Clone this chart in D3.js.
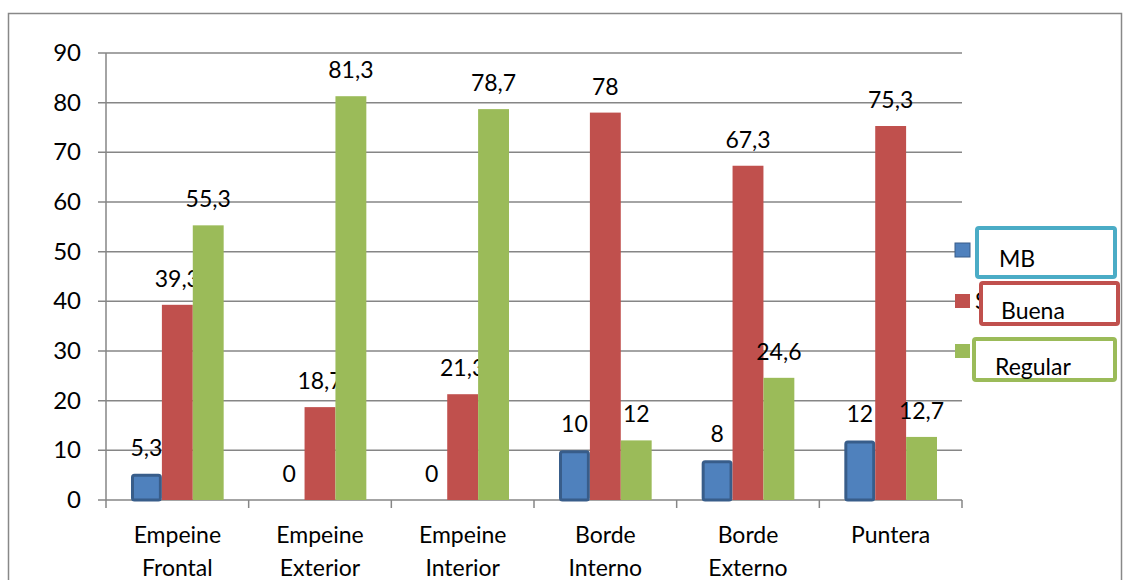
<!DOCTYPE html>
<html>
<head>
<meta charset="utf-8">
<script src="https://cdn.jsdelivr.net/npm/d3@7"></script>
<style>
  body { margin: 0; background: #fff; }
  text { font-family: Lato, "Noto Sans", sans-serif; fill: #000; }
</style>
</head>
<body>
<div id="chart"></div>
<script>
var categories = [["Empeine", "Frontal"], ["Empeine", "Exterior"], ["Empeine", "Interior"],
                  ["Borde", "Interno"], ["Borde", "Externo"], ["Puntera"]];
var seriesNames = ["MB", "Buena", "Regular"];
var mb = [5.3, 0, 0, 10, 8, 12];
var buena = [39.3, 18.7, 21.3, 78, 67.3, 75.3];
var regular = [55.3, 81.3, 78.7, 12, 24.6, 12.7];
var yTicks = [0, 10, 20, 30, 40, 50, 60, 70, 80, 90];

var colors = ["#4f81bd", "#c0504d", "#9bbb59"];
var strokes = ["#385d8a", null, null];
var boxColors = ["#4bacc6", "#c0504d", "#9bbb59"];

var W = 1133, H = 580;
var margin = { top: 53, left: 106 };
var width = 856, height = 447;

var svg = d3.select("#chart").append("svg")
  .attr("width", W).attr("height", H);

// outer chart border
svg.append("rect")
  .attr("x", 8.5).attr("y", 13.5)
  .attr("width", 1113).attr("height", 600)
  .attr("fill", "none").attr("stroke", "#888").attr("stroke-width", 1.5);

var g = svg.append("g")
  .attr("transform", "translate(" + margin.left + "," + margin.top + ")");

var x = d3.scaleBand().domain(d3.range(categories.length)).range([0, width]);
var x1 = d3.scaleBand().domain(d3.range(3)).range([25, x.bandwidth() - 25]);
var y = d3.scaleLinear().domain([0, 90]).range([height, 0]);

// grid
g.selectAll(".grid").data(yTicks).enter().append("line")
  .attr("x1", -8).attr("x2", width)
  .attr("y1", function (d) { return y(d); })
  .attr("y2", function (d) { return y(d); })
  .attr("stroke", "#868686").attr("stroke-width", 1.5);

// y axis line
g.append("line").attr("x1", 0).attr("x2", 0).attr("y1", 0).attr("y2", height)
  .attr("stroke", "#868686").attr("stroke-width", 1.5);

// x ticks
g.selectAll(".xt").data(d3.range(categories.length + 1)).enter().append("line")
  .attr("x1", function (d) { return d * x.step(); })
  .attr("x2", function (d) { return d * x.step(); })
  .attr("y1", height).attr("y2", height + 8)
  .attr("stroke", "#868686").attr("stroke-width", 1.5);

// y labels
g.selectAll(".yl").data(yTicks).enter().append("text")
  .attr("x", -25)
  .attr("y", function (d) { return y(d) + 8; })
  .attr("text-anchor", "end")
  .style("font-size", "24px")
  .text(function (d) { return d; });

// x labels
var xl = g.selectAll(".xl").data(categories).enter().append("text")
  .attr("text-anchor", "middle")
  .style("font-size", "23px")
  .attr("transform", function (d, i) { return "translate(" + (x(i) + x.bandwidth() / 2) + "," + (height + 43) + ")"; });
xl.selectAll("tspan").data(function (d) { return d; }).enter().append("tspan")
  .attr("x", 0)
  .attr("dy", function (d, i) { return i === 0 ? 0 : 33; })
  .text(function (d) { return d; });

var series = [mb, buena, regular];

series.forEach(function (vals, s) {
  var bars = g.selectAll(".bar" + s).data(vals).enter();
  bars.append("rect")
    .attr("x", function (d, i) { return x(i) + x1(s) + (strokes[s] ? 1.5 : 0); })
    .attr("width", x1.bandwidth() - (strokes[s] ? 3 : 0))
    .attr("y", function (d) { return y(d) + (strokes[s] ? 1.5 : 0); })
    .attr("height", function (d) { return Math.max(0, height - y(d) - (strokes[s] ? 1.5 : 0)); })
    .attr("rx", strokes[s] ? 2 : 0)
    .attr("fill", colors[s])
    .attr("stroke", strokes[s] || "none")
    .attr("stroke-width", strokes[s] ? 3 : 0)
    .style("display", function (d) { return d > 0 ? null : "none"; });

  bars.append("text")
    .attr("x", function (d, i) { return x(i) + x1(s) + x1.bandwidth() / 2; })
    .attr("y", function (d) { return y(d) - 18; })
    .attr("text-anchor", "middle")
    .style("font-size", "23px")
    .text(function (d) { return String(d).replace(".", ","); });
});

// legend
var legY = [250, 301, 351];
var legBoxes = [
  { x: 977, y: 228, w: 138, h: 49, tx: 999, ty: 267 },
  { x: 981, y: 283, w: 137, h: 41, tx: 1001, ty: 319 },
  { x: 974, y: 339, w: 141, h: 41, tx: 995, ty: 375 }
];
// sliver of the original legend label peeking out behind the "Buena" box
svg.append("text")
  .attr("x", 975).attr("y", legY[1] + 8)
  .style("font-size", "23px")
  .text("S");
seriesNames.forEach(function (name, s) {
  svg.append("rect")
    .attr("x", 955).attr("y", legY[s] - 7)
    .attr("width", 15).attr("height", 14)
    .attr("fill", colors[s])
    .attr("stroke", strokes[s] || "none").attr("stroke-width", 1);
  var b = legBoxes[s];
  svg.append("rect")
    .attr("x", b.x).attr("y", b.y).attr("width", b.w).attr("height", b.h)
    .attr("rx", 2)
    .attr("fill", "#fff")
    .attr("stroke", boxColors[s]).attr("stroke-width", 4);
  svg.append("text")
    .attr("x", b.tx).attr("y", b.ty)
    .style("font-size", "23px")
    .text(name);
});
</script>
</body>
</html>
